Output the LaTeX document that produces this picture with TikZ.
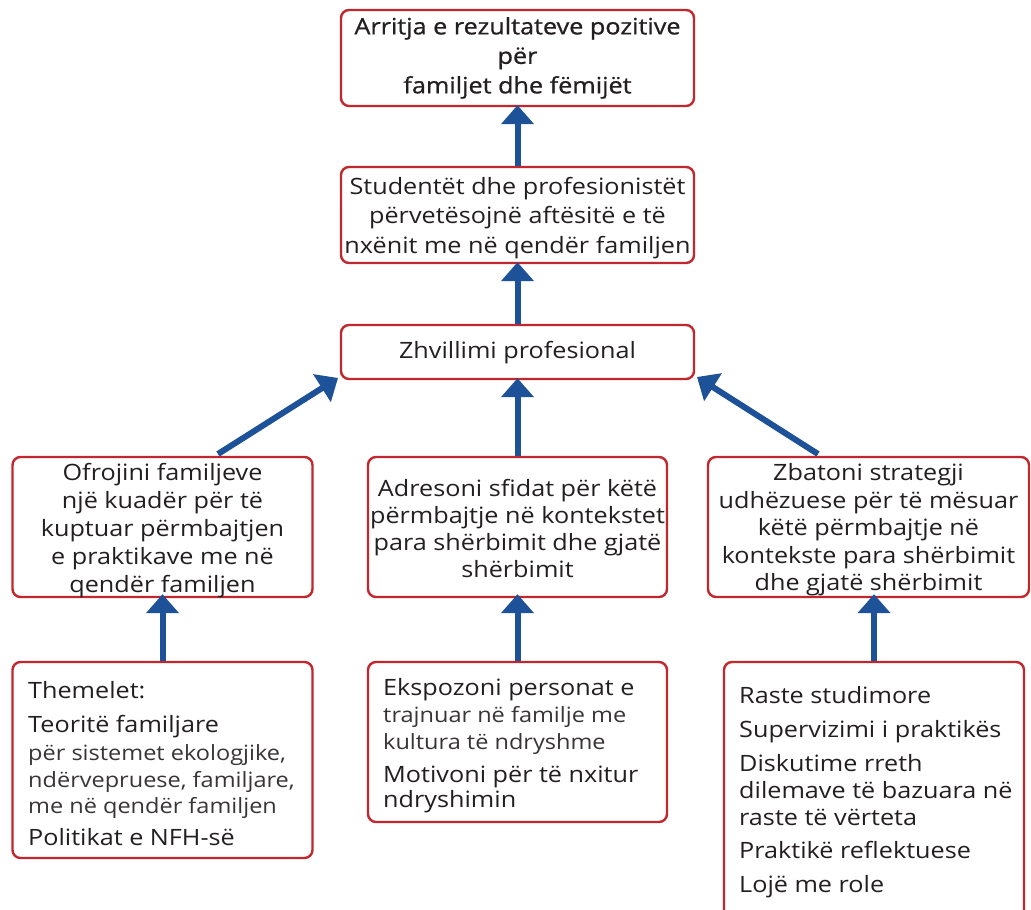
\documentclass[tikz,border=0pt]{standalone}
\usepackage{fontspec}
\setmainfont[FakeStretch=1.12]{Open Sans}
\newfontfamily\medfont[FakeStretch=1.12,FakeBold=0.8]{Open Sans}
\usetikzlibrary{arrows.meta}
\definecolor{boxred}{HTML}{C1272D}
\definecolor{arrblue}{HTML}{1D5198}
\definecolor{ink}{HTML}{231F20}
\tikzset{
  card/.style={draw=boxred, line width=2.4pt, rounded corners=8pt, fill=white, inner sep=0pt},
  flow/.style={draw=arrblue, line width=6pt, -{Triangle[width=32pt,length=19pt]}},
  body/.style={font=\fontsize{22.5}{28}\selectfont, text=ink, align=center},
  tall/.style={font=\fontsize{22.5}{29.5}\selectfont},
  big/.style={font=\fontsize{22.5}{28}\selectfont, text=ink, anchor=base west, inner sep=0pt},
  small/.style={font=\fontsize{21}{26}\selectfont, text=ink!90, anchor=base west, inner sep=0pt},
}
\begin{document}
\begin{tikzpicture}[x=1pt,y=-1pt]
\useasboundingbox (0,0) rectangle (1031,910);
\clip (0,0) rectangle (1031,910);

% upper chain
\node[card, minimum width=353pt, minimum height=96pt] (goal) at (517.5,58) {};
\node[body, font=\medfont\fontsize{22.5}{29.5}\selectfont] (goaltxt) at (517.5,58)
  {Arritja e rezultateve pozitive\\për\\familjet dhe fëmijët};
\node[card, minimum width=353pt, minimum height=96pt] (skills) at (517.5,215) {};
\node[body, tall] (skillstxt) at (517.5,218)
  {Studentët dhe profesionistët\\përvetësojnë aftësitë e të\\nxënit me në qendër familjen};
\node[card, minimum width=353pt, minimum height=54pt] (prof) at (517.5,352) {};
\node[body] (proftxt) at (517.5,353) {Zhvillimi profesional};

% middle row
\node[card, minimum width=300pt, minimum height=140pt] (frame) at (162.5,527) {};
\node[body] (frametxt) at (162.5,531)
  {Ofrojini familjeve\\një kuadër për të\\kuptuar përmbajtjen\\e praktikave me në\\qendër familjen};
\node[card, minimum width=299pt, minimum height=140pt] (chall) at (517.5,527) {};
\node[body, font=\fontsize{22.5}{27}\selectfont] (challtxt) at (517.5,528)
  {Adresoni sfidat për këtë\\përmbajtje në kontekstet\\para shërbimit dhe gjatë\\shërbimit};
\node[card, minimum width=321pt, minimum height=140pt] (strat) at (868.5,527) {};
\node[body, font=\fontsize{22.5}{27.5}\selectfont] (strattxt) at (868.5,530)
  {Zbatoni strategji\\udhëzuese për të mësuar\\këtë përmbajtje në\\kontekste para shërbimit\\dhe gjatë shërbimit};

% bottom row
\node[card, minimum width=300pt, minimum height=196pt] (found) at (162.5,760) {};
\node[big]   (f1) at (28,698) {Themelet:};
\node[big]   (f2) at (28,732) {Teoritë familjare};
\node[small] (f3) at (28,760) {për sistemet ekologjike,};
\node[small] (f4) at (28,787) {ndërvepruese, familjare,};
\node[small] (f5) at (28,813) {me në qendër familjen};
\node[big]   (f6) at (28,845) {Politikat e NFH-së};

\node[card, minimum width=299pt, minimum height=160pt] (expo) at (517.5,742) {};
\node[big]   (e1) at (383,695) {Ekspozoni personat e};
\node[small] (e2) at (383,722) {trajnuar në familje me};
\node[small] (e3) at (383,749) {kultura të ndryshme};
\node[big]   (e4) at (383,782) {Motivoni për të nxitur};
\node[big]   (e5) at (383,807) {ndryshimin};

\node[card, minimum width=300pt, minimum height=280pt] (tools) at (874,802) {};
\node[big] (t1) at (739,703) {Raste studimore};
\node[big] (t2) at (739,737) {Supervizimi i praktikës};
\node[big] (t3) at (739,771) {Diskutime rreth};
\node[big] (t4) at (739,798) {dilemave të bazuara në};
\node[big] (t5) at (739,825) {raste të vërteta};
\node[big] (t6) at (739,858) {Praktikë reflektuese};
\node[big] (t7) at (739,892) {Lojë me role};

% connectors
\coordinate (frametop) at (218,454);
\coordinate (stratop) at (818,454);
\coordinate (profbl) at (338,378);
\coordinate (profbr) at (697,377);
\draw[flow] (skills.north) -- ([yshift=2pt]goal.south);
\draw[flow] (prof.north) -- ([yshift=2pt]skills.south);
\draw[flow] (chall.north) -- ([yshift=2pt]prof.south);
\draw[flow] (frametop) -- (profbl);
\draw[flow] (stratop) -- (profbr);
\draw[flow] (found.north) -- ([yshift=4pt]frame.south);
\draw[flow] (expo.north) -- ([yshift=4pt]chall.south);
\draw[flow] (tools.north) -- ([yshift=4pt]tools.north |- strat.south);
\end{tikzpicture}
\end{document}
